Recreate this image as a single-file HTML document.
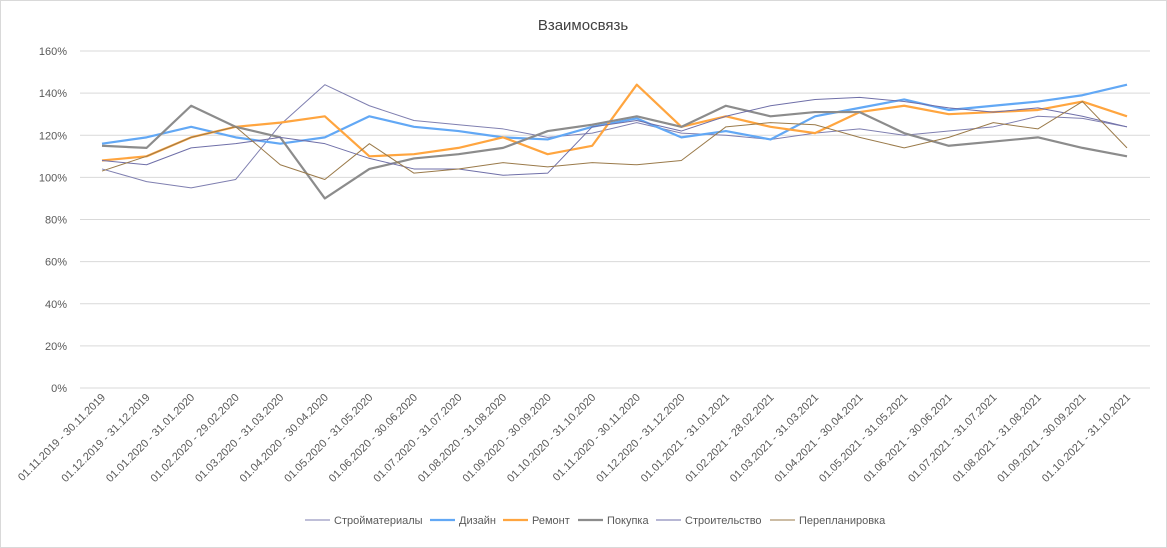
<!DOCTYPE html>
<html><head><meta charset="utf-8"><style>
body{margin:0;background:#fff;font-family:"Liberation Sans",sans-serif}
#wrap{position:relative;width:1167px;height:548px;overflow:hidden}
#frame{position:absolute;left:0;top:0;width:1165px;height:546px;border:1px solid #d9d9d9}
</style></head><body>
<div id="wrap">
<div id="frame"></div>
<svg id="chart" width="1167" height="548" style="position:absolute;left:0;top:0"></svg>
</div>
<script>
const categories=["01.11.2019 - 30.11.2019","01.12.2019 - 31.12.2019","01.01.2020 - 31.01.2020","01.02.2020 - 29.02.2020","01.03.2020 - 31.03.2020","01.04.2020 - 30.04.2020","01.05.2020 - 31.05.2020","01.06.2020 - 30.06.2020","01.07.2020 - 31.07.2020","01.08.2020 - 31.08.2020","01.09.2020 - 30.09.2020","01.10.2020 - 31.10.2020","01.11.2020 - 30.11.2020","01.12.2020 - 31.12.2020","01.01.2021 - 31.01.2021","01.02.2021 - 28.02.2021","01.03.2021 - 31.03.2021","01.04.2021 - 30.04.2021","01.05.2021 - 31.05.2021","01.06.2021 - 30.06.2021","01.07.2021 - 31.07.2021","01.08.2021 - 31.08.2021","01.09.2021 - 30.09.2021","01.10.2021 - 31.10.2021"];
const stroymat=[104,98,95,99,125,144,134,127,125,123,119,121,126,121,120,118,121,123,120,122,124,129,128,124];
const dizain=[116,119,124,119,116,119,129,124,122,119,118,124,128,119,122,118,129,133,137,132,134,136,139,144];
const remont=[108,110,119,124,126,129,110,111,114,119,111,115,144,124,129,124,121,131,134,130,131,132,136,129];
const pokupka=[115,114,134,124,119,90,104,109,111,114,122,125,129,124,134,129,131,131,121,115,117,119,114,110];
const stroitelstvo=[108,106,114,116,119,116,109,104,104,101,102,124,127,122,129,134,137,138,136,133,131,133,129,124];
const pereplan=[103,110,119,124,106,99,116,102,104,107,105,107,106,108,124,126,125,119,114,119,126,123,136,114];
const yTicks=[0,20,40,60,80,100,120,140,160];
const series=[
 {name:"Стройматериалы",data:stroymat,color:"#7f7fb0",w:1,key:"stroymaterialy"},
 {name:"Дизайн",data:dizain,color:"#5b9bd5",w:2.2,key:"dizain",c2:"#62a8f5"},
 {name:"Ремонт",data:remont,color:"#ffa53f",w:2.2,key:"remont"},
 {name:"Покупка",data:pokupka,color:"#8c8c8c",w:2.2,key:"pokupka"},
 {name:"Строительство",data:stroitelstvo,color:"#6f6fa8",w:1,key:"stroitelstvo"},
 {name:"Перепланировка",data:pereplan,color:"#9a7a4a",w:1,key:"pereplanirovka"}];
series[1].color="#62a8f5";
const NS="http://www.w3.org/2000/svg";
const svg=document.getElementById('chart');
const X0=102,X1=1127,Y0=388,Y1=51,VMAX=160;
const xs=i=>X0+i*(X1-X0)/(categories.length-1);
const ys=v=>Y0-(v/VMAX)*(Y0-Y1);
function mk(t,a){const e=document.createElementNS(NS,t);for(const k in a)e.setAttribute(k,a[k]);svg.appendChild(e);return e;}
const title=mk('text',{x:583,y:30,'text-anchor':'middle','font-size':15,fill:'#404040'});
title.textContent="Взаимосвязь";


yTicks.forEach(t=>{
 const g=mk('line',{x1:80,x2:1150,y1:ys(t),y2:ys(t),stroke:'#d9d9d9','stroke-width':1});
 
 
 const l=mk('text',{x:67,y:ys(t)+4,'text-anchor':'end','font-size':11,fill:'#595959'});
 l.textContent=t+'%';
 
 
});
categories.forEach((c,i)=>{
 const x=xs(i),y=398;
 const l=mk('text',{x:x+4,y:y,'text-anchor':'end','font-size':11,fill:'#595959',transform:`rotate(-45 ${x+4} ${y})`});
 l.textContent=c;
 
 
});
series.forEach(s=>{
 const p=mk('polyline',{points:s.data.map((v,i)=>xs(i)+','+ys(v)).join(' '),fill:'none',stroke:s.color,'stroke-width':s.w,'stroke-linejoin':'round'});
 
 
});
const lx=[305,430,503,578,656,770];
series.forEach((s,i)=>{
 const x=lx[i];
 const ln=mk('line',{x1:x,x2:x+25,y1:520,y2:520,stroke:s.color,'stroke-width':s.w});
 
 
 const t=mk('text',{x:x+29,y:524,'font-size':11,fill:'#595959'});
 t.textContent=s.name;
 
 
});
</script>
</body></html>
